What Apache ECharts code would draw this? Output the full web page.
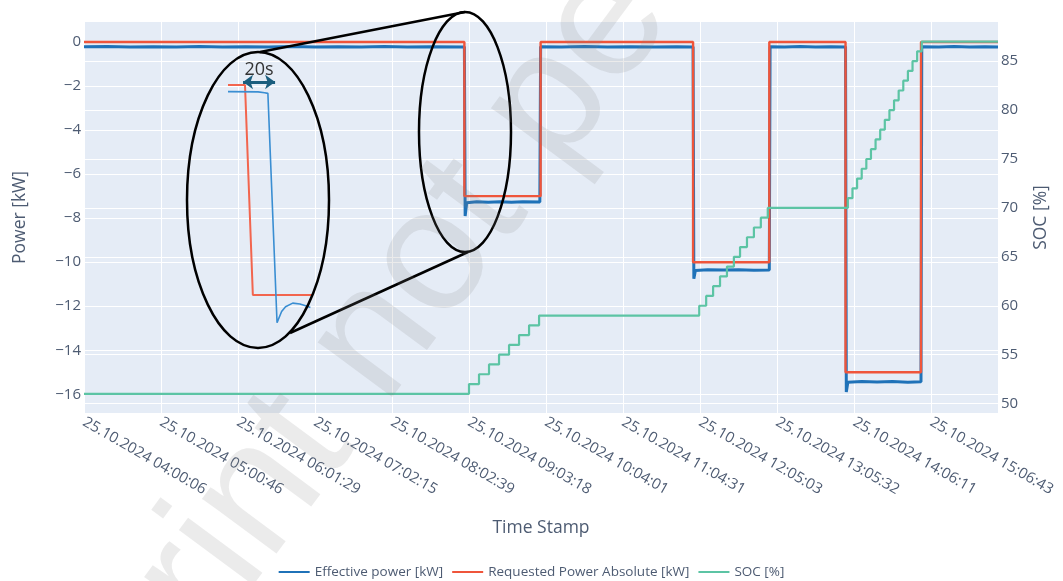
<!DOCTYPE html>
<html>
<head>
<meta charset="utf-8">
<title>Effective vs requested power and SOC</title>
<script src="https://cdn.jsdelivr.net/npm/echarts@6/dist/echarts.min.js"></script>
<style>
  html, body { margin: 0; padding: 0; background: #fff; }
  #chart { width: 1063px; height: 581px; }
</style>
</head>
<body>
<div id="chart"></div>
<script>
// x is measured in tick steps: 0 = first tick label, 1 = the next one, ...
const tickLabels = [
  '25.10.2024 04:00:06', '25.10.2024 05:00:46', '25.10.2024 06:01:29',
  '25.10.2024 07:02:15', '25.10.2024 08:02:39', '25.10.2024 09:03:18',
  '25.10.2024 10:04:01', '25.10.2024 11:04:31', '25.10.2024 12:05:03',
  '25.10.2024 13:05:32', '25.10.2024 14:06:11', '25.10.2024 15:06:43'
]
const tickPos = [0, 1, 2, 3, 4, 5, 6, 7, 8, 9, 10, 11]
const powerTicks = [0, -2, -4, -6, -8, -10, -12, -14, -16]
const socTicks = [50, 55, 60, 65, 70, 75, 80, 85]

const effectivePower = [
  [0, -0.21], [0.3, -0.2], [0.6, -0.23], [0.9, -0.21], [1.2, -0.22], [1.5, -0.2],
  [1.8, -0.22], [2.1, -0.21], [2.4, -0.23], [2.7, -0.2], [3.0, -0.22], [3.3, -0.21],
  [3.6, -0.22], [3.9, -0.2], [4.2, -0.22], [4.5, -0.21], [4.94, -0.22],
  [4.95, -7.9], [4.97, -7.3], [5.1, -7.25], [5.25, -7.28], [5.4, -7.26], [5.55, -7.28],
  [5.7, -7.25], [5.92, -7.27],
  [5.93, -0.21], [6.2, -0.22], [6.5, -0.2], [6.8, -0.22], [7.1, -0.21], [7.4, -0.23],
  [7.7, -0.21], [7.91, -0.22],
  [7.92, -10.75], [7.94, -10.38], [8.1, -10.34], [8.3, -10.36], [8.5, -10.34],
  [8.7, -10.37], [8.9, -10.35],
  [8.91, -0.21], [9.1, -0.22], [9.3, -0.2], [9.5, -0.22], [9.7, -0.21], [9.89, -0.22],
  [9.9, -15.9], [9.92, -15.45], [10.1, -15.42], [10.3, -15.44], [10.5, -15.42],
  [10.7, -15.45], [10.87, -15.43],
  [10.88, -0.21], [11.1, -0.22], [11.3, -0.2], [11.5, -0.22], [11.7, -0.21], [11.87, -0.22]
]
// new level from each x on
const requestedPower = [
  [0, 0], [4.94, -7], [5.93, 0], [7.91, -10], [8.9, 0], [9.89, -15], [10.87, 0], [11.87, 0]
]
const socSteps = [
  [0, 51], [5.0, 52], [5.13, 53], [5.26, 54], [5.39, 55], [5.52, 56], [5.65, 57], [5.78, 58], [5.91, 59],
  [7.99, 60], [8.08, 61], [8.17, 62], [8.26, 63], [8.35, 64], [8.44, 65], [8.52, 66], [8.61, 67],
  [8.7, 68], [8.79, 69], [8.88, 70],
  [9.92, 71], [9.98, 72], [10.04, 73], [10.1, 74], [10.16, 75], [10.22, 76], [10.28, 77], [10.34, 78],
  [10.4, 79], [10.46, 80], [10.52, 81], [10.58, 82], [10.64, 83], [10.7, 84], [10.76, 85], [10.82, 86],
  [10.88, 87], [11.87, 87]
]

// zoomed view of the first drop: seconds, kW
const zoomRequested = [[-13, 0], [0, 0], [6, -7], [52, -7]]
const zoomEffective = [
  [-13, -0.22], [10, -0.23], [15, -0.26], [17.5, -0.28], [24.5, -7.92], [28, -7.55],
  [31, -7.39], [36.5, -7.27], [42, -7.3], [47, -7.37], [50, -7.42]
]

const textColor = '#4d5b72'
const font = "'Open Sans', sans-serif"
const minus = v => (v < 0 ? '\u2212' + Math.abs(v) : String(v))

const chart = echarts.init(document.getElementById('chart'))
chart.setOption({
  animation: false,
  textStyle: { fontFamily: font },
  legend: {
    top: 560,
    left: 'center',
    icon: 'rect',
    itemWidth: 31,
    itemHeight: 2,
    itemGap: 9,
    textStyle: { color: textColor, fontSize: 13.5, fontFamily: font },
    data: ['Effective power [kW]', 'Requested Power Absolute [kW]', 'SOC [%]']
  },
  grid: [
    { left: 84, right: 65, top: 22, bottom: 168, show: true, backgroundColor: '#e5ecf6', borderWidth: 0 },
    { left: 228, width: 85, top: 79, height: 246, show: false }
  ],
  xAxis: [
    {
      type: 'value', min: 0, max: 11.87,
      name: 'Time Stamp', nameLocation: 'middle', nameGap: 106,
      nameTextStyle: { color: textColor, fontSize: 17.5 },
      axisLine: { show: false },
      axisTick: { show: false, customValues: tickPos },
      axisLabel: {
        customValues: tickPos, rotate: -30, margin: 8,
        color: textColor, fontSize: 15,
        formatter: v => tickLabels[v] || ''
      },
      splitLine: { show: true, lineStyle: { color: '#fff', width: 1 } }
    },
    { gridIndex: 1, type: 'value', min: -13, max: 52, show: false }
  ],
  yAxis: [
    {
      type: 'value', min: -16.85, max: 0.91,
      name: 'Power [kW]', nameLocation: 'middle', nameGap: 55, nameRotate: 90,
      nameTextStyle: { color: textColor, fontSize: 17.5 },
      axisLine: { show: false },
      axisTick: { show: false, customValues: powerTicks },
      axisLabel: { customValues: powerTicks, margin: 3, color: textColor, fontSize: 15, formatter: minus },
      splitLine: { show: true, lineStyle: { color: '#fff', width: 1 } }
    },
    {
      type: 'value', position: 'right', min: 49.04, max: 89.0,
      name: 'SOC [%]', nameLocation: 'middle', nameGap: 34, nameRotate: 90,
      nameTextStyle: { color: textColor, fontSize: 17.5 },
      axisLine: { show: false },
      axisTick: { show: false, customValues: socTicks },
      axisLabel: { customValues: socTicks, margin: 3, color: textColor, fontSize: 15 },
      splitLine: { show: true, lineStyle: { color: '#fff', width: 1 } }
    },
    { gridIndex: 1, type: 'value', min: -8, max: 0.2, show: false }
  ],
  series: [
    {
      name: 'Effective power [kW]', type: 'line', data: effectivePower,
      showSymbol: false, symbol: 'none', color: '#1f72b8',
      lineStyle: { width: 3 }
    },
    {
      name: 'Requested Power Absolute [kW]', type: 'line', data: requestedPower,
      step: 'end', showSymbol: false, symbol: 'none', color: '#ef553b',
      lineStyle: { width: 2.4 }
    },
    {
      name: 'SOC [%]', type: 'line', yAxisIndex: 1, data: socSteps,
      step: 'end', showSymbol: false, symbol: 'none', color: '#5cc4a4',
      lineStyle: { width: 2.2 }
    },
    {
      type: 'line', xAxisIndex: 1, yAxisIndex: 2, data: zoomRequested,
      showSymbol: false, symbol: 'none', color: '#f2654e', lineStyle: { width: 2 }, z: 5
    },
    {
      type: 'line', xAxisIndex: 1, yAxisIndex: 2, data: zoomEffective,
      showSymbol: false, symbol: 'none', color: '#3a8ed2', lineStyle: { width: 1.6 }, z: 5,
      markLine: {
        silent: true,
        symbol: ['arrow', 'arrow'],
        symbolSize: [11, 10],
        lineStyle: { color: '#1b5e7e', width: 3, type: 'solid' },
        label: { show: true, position: 'insideMiddleTop', distance: 3, formatter: '20s', color: '#333', fontSize: 18 },
        data: [[{ coord: [-1.5, 0.1] }, { coord: [23, 0.1] }]]
      }
    }
  ],
  graphic: [
    { type: 'ellipse', shape: { cx: 258, cy: 200, rx: 71, ry: 148 }, style: { fill: null, stroke: '#000', lineWidth: 2.5 }, z: 10 },
    { type: 'ellipse', shape: { cx: 465, cy: 132, rx: 46, ry: 120 }, style: { fill: null, stroke: '#000', lineWidth: 2.5 }, z: 10 },
    { type: 'line', shape: { x1: 260, y1: 52, x2: 465, y2: 12 }, style: { stroke: '#000', lineWidth: 2.5 }, z: 10 },
    { type: 'line', shape: { x1: 290, y1: 333, x2: 468, y2: 252 }, style: { stroke: '#000', lineWidth: 2.5 }, z: 10 },
    {
      type: 'text', x: 569, y: 77, rotation: 53.5 * Math.PI / 180, z: 20, silent: true,
      style: {
        text: 'preprint not peer reviewed', font: "175px 'Liberation Sans', sans-serif",
        fill: 'rgba(128,128,128,0.16)', align: 'center', verticalAlign: 'middle'
      }
    }
  ]
})
</script>
</body>
</html>
